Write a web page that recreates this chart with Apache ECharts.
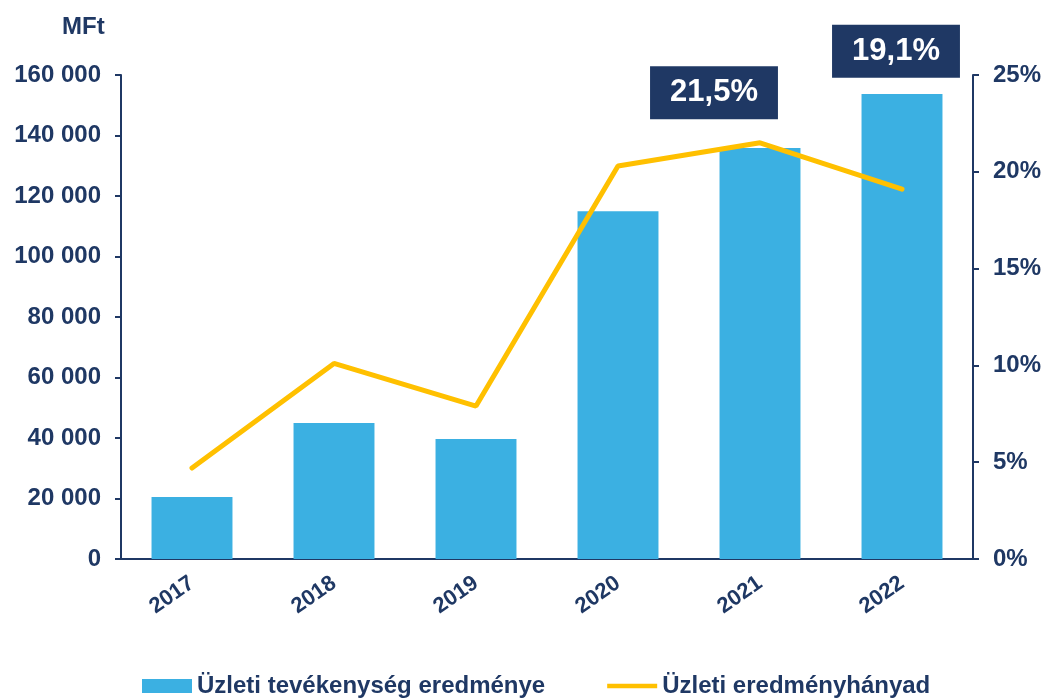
<!DOCTYPE html>
<html>
<head>
<meta charset="utf-8">
<script src="https://cdn.jsdelivr.net/npm/echarts@6/dist/echarts.min.js"></script>
<style>
  html, body { margin: 0; padding: 0; background: #fff; }
  #chart { width: 1051px; height: 699px; }
</style>
</head>
<body>
<div id="chart"></div>
<script>
// 年份
var YEARS = ["2017", "2018", "2019", "2020", "2021", "2022"];
// üzleti tevékenység eredménye (MFt)
var RESULT = [20500, 45000, 39700, 115000, 135900, 153700];
// üzleti eredményhányad (%)
var MARGIN = [4.7, 10.1, 7.9, 20.3, 21.5, 19.1];
// kiemelt címkék (index -> eltolás)
var CALLOUTS = { 4: [-46, -50], 5: [-6, -138] };

var NAVY = "#1f3864";
var BLUE = "#3bb0e2";
var GOLD = "#ffc000";
var FONT = "Liberation Sans, Arial, sans-serif";

function fmtThousand(v) {
  return String(v).replace(/\B(?=(\d{3})+(?!\d))/g, " ");
}

function lineData() {
  return MARGIN.map(function (v, i) {
    var item = { value: v };
    if (CALLOUTS[i]) {
      item.label = {
        show: true,
        position: "inside",
        offset: CALLOUTS[i],
        formatter: function (p) { return p.value.toFixed(1).replace(".", ",") + "%"; },
        color: "#fff",
        fontFamily: FONT,
        fontWeight: "bold",
        fontSize: 31,
        lineHeight: 31,
        backgroundColor: NAVY,
        padding: [11, 20, 11, 20]
      };
    }
    return item;
  });
}

var chart = echarts.init(document.getElementById("chart"));
chart.setOption({
  animation: false,
  title: {
    text: "MFt",
    left: 57,
    top: 10,
    textStyle: { color: NAVY, fontFamily: FONT, fontWeight: "bold", fontSize: 24 }
  },
  grid: { left: 121, right: 78, top: 75, bottom: 140 },
  legend: {
    left: 137,
    top: 669,
    itemWidth: 50,
    itemHeight: 14,
    itemGap: 62,
    textStyle: { color: NAVY, fontFamily: FONT, fontWeight: "bold", fontSize: 24 },
    data: [
      { name: "Üzleti tevékenység eredménye", icon: "rect" },
      { name: "Üzleti eredményhányad", icon: "path://M0,0 L56,0 L56,5 L0,5 Z" }
    ]
  },
  xAxis: {
    type: "category",
    data: YEARS,
    axisLine: { lineStyle: { color: NAVY, width: 2 } },
    axisTick: { show: false },
    axisLabel: {
      rotate: 35,
      margin: 22,
      color: NAVY,
      fontFamily: FONT,
      fontWeight: "bold",
      fontSize: 22
    }
  },
  yAxis: [
    {
      type: "value",
      min: 0,
      max: 160000,
      interval: 20000,
      splitLine: { show: false },
      axisLine: { show: true, lineStyle: { color: NAVY, width: 2 } },
      axisTick: { show: true, length: 6, lineStyle: { color: NAVY, width: 2 } },
      axisLabel: {
        margin: 20,
        color: NAVY,
        fontFamily: FONT,
        fontWeight: "bold",
        fontSize: 24,
        formatter: fmtThousand
      }
    },
    {
      type: "value",
      min: 0,
      max: 25,
      interval: 5,
      splitLine: { show: false },
      axisLine: { show: true, lineStyle: { color: NAVY, width: 2 } },
      axisTick: { show: true, length: 6, lineStyle: { color: NAVY, width: 2 } },
      axisLabel: {
        margin: 20,
        color: NAVY,
        fontFamily: FONT,
        fontWeight: "bold",
        fontSize: 24,
        formatter: "{value}%"
      }
    }
  ],
  series: [
    {
      name: "Üzleti tevékenység eredménye",
      type: "bar",
      barWidth: "57%",
      itemStyle: { color: BLUE },
      data: RESULT
    },
    {
      name: "Üzleti eredményhányad",
      type: "line",
      yAxisIndex: 1,
      symbol: "circle",
      symbolSize: 1,
      itemStyle: { color: GOLD },
      lineStyle: { color: GOLD, width: 5, cap: "round" },
      z: 5,
      data: lineData()
    }
  ]
});
</script>
</body>
</html>
